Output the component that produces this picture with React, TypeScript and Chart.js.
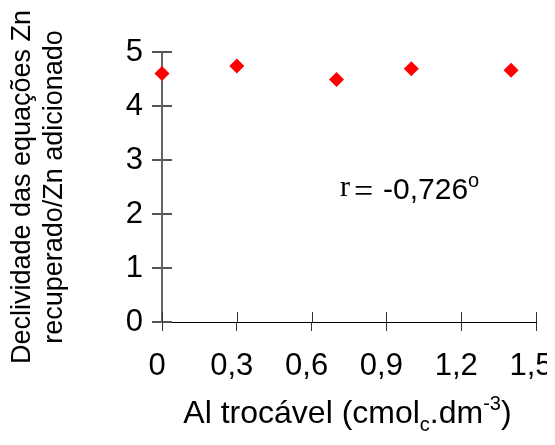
import React, { useEffect, useRef } from "react";
import { Chart, registerables } from "chart.js";

Chart.register(...registerables);

// ---- data ----
const alValues = [0, 0.3, 0.7, 1.0, 1.4];
const slopeValues = [4.6, 4.74, 4.49, 4.69, 4.66];
const xTickValues = [0, 0.3, 0.6, 0.9, 1.2, 1.5];
const xTickLabels = ["0", "0,3", "0,6", "0,9", "1,2", "1,5"];
const yTickValues = [0, 1, 2, 3, 4, 5];
const yTickLabels = ["0", "1", "2", "3", "4", "5"];
const yTitleLines = ["Declividade das equações Zn", "recuperado/Zn adicionado"];
const xTitleParts = ["Al trocável (cmol", "c", ".dm", "-3", ")"];
const rLabel = ["r", "=", "-0,726", "o"];

const SANS = "'Liberation Sans', Arial, sans-serif";
const SERIF = "'Liberation Serif', 'Times New Roman', serif";

const decorPlugin = {
  id: "decor",
  afterDraw(chart: any) {
    const ctx = chart.ctx as CanvasRenderingContext2D;
    const xs = chart.scales.x;
    const ys = chart.scales.y;
    const area = chart.chartArea;
    ctx.save();
    // inner ticks
    ctx.strokeStyle = "#555";
    ctx.lineWidth = 2;
    ys.ticks.forEach((t: any) => {
      const py = Math.round(ys.getPixelForValue(t.value));
      ctx.beginPath();
      ctx.moveTo(area.left, py);
      ctx.lineTo(area.left + 10, py);
      ctx.stroke();
    });
    ctx.lineWidth = 1;
    ctx.strokeStyle = "#333";
    xs.ticks.forEach((t: any) => {
      const px = Math.round(xs.getPixelForValue(t.value)) + 0.5;
      ctx.beginPath();
      ctx.moveTo(px, area.bottom);
      ctx.lineTo(px, area.bottom - 10);
      ctx.stroke();
    });

    // y title
    ctx.fillStyle = "#000";
    ctx.save();
    ctx.translate(0, (area.top + area.bottom) / 2);
    ctx.rotate(-Math.PI / 2);
    ctx.font = `27px ${SANS}`;
    ctx.textAlign = "center";
    ctx.textBaseline = "middle";
    ctx.fillText(yTitleLines[0], 0, 15);
    ctx.fillText(yTitleLines[1], 0, 47);
    ctx.restore();

    // x title with sub/superscripts
    const mainFont = `32px ${SANS}`;
    const smallFont = `20px ${SANS}`;
    const segs = [
      { t: xTitleParts[0], f: mainFont, dy: 0 },
      { t: xTitleParts[1], f: smallFont, dy: 8 },
      { t: xTitleParts[2], f: mainFont, dy: 0 },
      { t: xTitleParts[3], f: smallFont, dy: -13 },
      { t: xTitleParts[4], f: mainFont, dy: 0 },
    ];
    let total = 0;
    segs.forEach((s) => {
      ctx.font = s.f;
      total += ctx.measureText(s.t).width;
    });
    let cx = 339.5 - total / 2;
    const baseY = 415;
    ctx.textAlign = "left";
    ctx.textBaseline = "alphabetic";
    segs.forEach((s) => {
      ctx.font = s.f;
      ctx.fillText(s.t, cx, baseY + s.dy);
      cx += ctx.measureText(s.t).width;
    });

    // r annotation
    ctx.font = `30px ${SERIF}`;
    ctx.fillText(rLabel[0], 332, 188);
    ctx.font = `34px ${SERIF}`;
    ctx.fillText(rLabel[1], 346, 194);
    ctx.font = `30px ${SANS}`;
    ctx.fillText(rLabel[2], 375, 191);
    const w = ctx.measureText(rLabel[2]).width;
    ctx.font = `20px ${SANS}`;
    ctx.fillText(rLabel[3], 375 + w, 179);
    ctx.restore();
  },
};

export default function App() {
  const ref = useRef<HTMLCanvasElement | null>(null);
  useEffect(() => {
    if (!ref.current) return;
    const chart = new Chart(ref.current, {
      type: "scatter",
      data: {
        datasets: [
          {
            data: alValues.map((x, i) => ({ x, y: slopeValues[i] })),
            backgroundColor: "#ff0000",
            borderColor: "#ff0000",
            borderWidth: 0,
            pointStyle: "rectRot",
            pointRadius: 7.5,
            clip: false as any,
          },
        ],
      },
      options: {
        animation: false,
        responsive: true,
        maintainAspectRatio: false,
        layout: { padding: { left: 0, top: 44, right: 11, bottom: 0 } },
        plugins: { legend: { display: false }, tooltip: { enabled: false } },
        scales: {
          x: {
            type: "linear",
            min: 0,
            max: 1.5,
            afterBuildTicks: (s: any) => {
              s.ticks = xTickValues.map((v) => ({ value: v }));
            },
            afterFit: (s: any) => {
              s.height = 115;
              s.paddingLeft = 0;
              s.paddingRight = 0;
            },
            ticks: {
              callback: (_v: any, i: number) => xTickLabels[i],
              color: "#000",
              font: { family: SANS, size: 31 },
              padding: 17,
              labelOffset: -5,
              maxRotation: 0,
              autoSkip: false,
            },
            grid: {
              display: true,
              drawOnChartArea: false,
              drawTicks: true,
              tickLength: 9,
              color: "#333",
              lineWidth: 1,
            },
            border: { display: true, color: "#000", width: 1 },
          },
          y: {
            type: "linear",
            min: 0,
            max: 5,
            afterBuildTicks: (s: any) => {
              s.ticks = yTickValues.map((v) => ({ value: v }));
            },
            afterFit: (s: any) => {
              s.width = 154;
              s.paddingTop = 0;
              s.paddingBottom = 0;
            },
            ticks: {
              callback: (_v: any, i: number) => yTickLabels[i],
              color: "#000",
              font: { family: SANS, size: 31 },
              padding: 9,
              autoSkip: false,
            },
            grid: {
              display: true,
              drawOnChartArea: false,
              drawTicks: true,
              tickLength: 10,
              color: "#555",
              lineWidth: 2,
            },
            border: { display: true, color: "#666", width: 2 },
          },
        },
      },
      plugins: [decorPlugin],
    });
    return () => chart.destroy();
  }, []);
  return (
    <div style={{ width: 539, height: 429, position: "relative" }}>
      <canvas ref={ref} />
    </div>
  );
}
